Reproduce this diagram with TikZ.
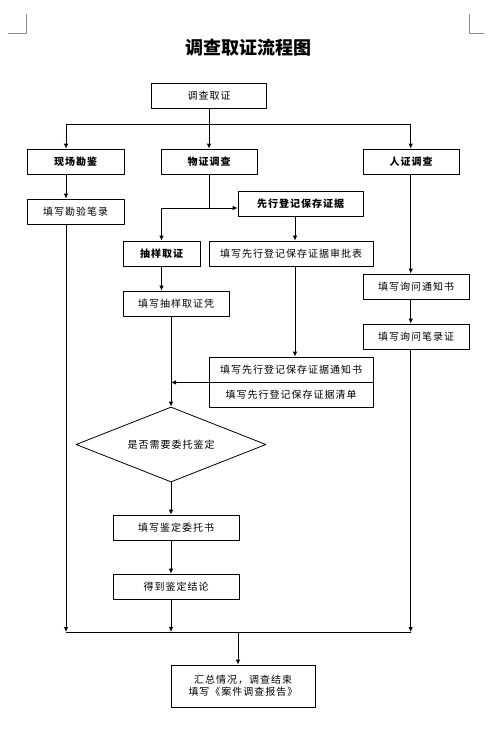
\documentclass[tikz,border=0pt]{standalone}
\usepackage{fontspec}
\newfontfamily\cjk[LetterSpace=10]{Noto Sans CJK SC}
\newfontfamily\cjktitle{Noto Sans CJK SC}
\usetikzlibrary{shapes.geometric,arrows.meta}
\tikzset{
	box/.style={draw, line width=.8pt, minimum height=25pt, inner sep=0pt, font=\cjk\fontsize{10}{12}\selectfont},
	boldbox/.style={box, font=\cjk\bfseries\fontsize{10}{12}\selectfont},
	arr/.style={-{Latex[length=5pt,width=4.5pt]}, line width=.8pt},
}
\begin{document}
\begin{tikzpicture}[x=1pt, y=-1pt, line join=round]
				\useasboundingbox (0,0) rectangle (491,750);
				\coordinate (sL) at (66,124);
				\coordinate (sR) at (410.7,124);
				\coordinate (wB) at (209,208);
				\coordinate (wL) at (161.5,208);
				\coordinate (xX) at (295,190);
				\coordinate (eL) at (66,632);
				\coordinate (eR) at (410.7,632);
				\coordinate (eM) at (238,632);
				\draw[black!45] (8,33) -- (26,33) -- (26,14);
				\draw[black!45] (469,14) -- (469,33) -- (484,33);
				\node[font=\cjktitle\bfseries\fontsize{18}{20}\selectfont] (title) at (248.5,48) {调查取证流程图};
				\node[box, minimum width=115pt] (start) at (209,95.5) {调查取证};
				\node[boldbox, minimum width=97pt] (xcKJ) at (75.5,161.5) {现场勘鉴};
				\node[boldbox, minimum width=96pt] (wzDC) at (209,161.5) {物证调查};
				\node[boldbox, minimum width=96pt] (rzDC) at (411,161.5) {人证调查};
				\node[box, minimum width=97pt] (kyBL) at (75.5,211.5) {填写勘验笔录};
				\node[boldbox, minimum width=125pt] (xxDJ) at (300.5,203.5) {先行登记保存证据};
				\node[boldbox, minimum width=77pt] (cyQZ) at (161.5,253.5) {抽样取证};
				\node[box, minimum width=164pt] (spB) at (291,253.5) {填写先行登记保存证据审批表};
				\node[box, minimum width=106pt] (cyPZ) at (176,303.5) {填写抽样取证凭};
				\node[box, minimum width=106pt] (xwTZ) at (416,286.5) {填写询问通知书};
				\node[box, minimum width=106pt] (xwBL) at (416,336.5) {填写询问笔录证};
				\node[box, minimum width=164pt] (tzS) at (291,369.5) {填写先行登记保存证据通知书};
				\node[box, minimum width=164pt] (qd) at (291,394.5) {填写先行登记保存证据清单};
				\node[box, diamond, aspect=2.5, minimum width=190pt, minimum height=75pt] (jd) at (171,444.5) {是否需要委托鉴定};
				\node[box, minimum width=126pt] (wtS) at (176,527.5) {填写鉴定委托书};
				\node[box, minimum width=126pt] (jl) at (176,586.5) {得到鉴定结论};
				\node[box, minimum width=144pt, minimum height=42pt, align=center] (end) at (243,686) {汇总情况，调查结束\\填写《案件调查报告》};
				\draw[line width=.8pt] (start) -- (start |- sL);
				\draw[line width=.8pt] (sL) -- (sR);
				\draw[arr] (sL) -- (sL |- xcKJ.north);
				\draw[arr] (start |- sL) -- (wzDC);
				\draw[arr] (sR) -- (sR |- rzDC.north);
				\draw[arr] (sL |- xcKJ.south) -- (sL |- kyBL.north);
				\draw[arr] (sL |- kyBL.south) -- (eL);
				\draw[line width=.8pt] (wzDC) -- (wB);
				\draw[arr] (wB) -- (wB -| xxDJ.west);
				\draw[arr] (wB) -- (wL) -- (cyQZ);
				\draw[arr] (xxDJ.south -| xX) -- (xX |- spB.north);
				\draw[arr] (spB.south -| xX) -- (xX |- tzS.north);
				\draw[arr] (cyQZ) -- (cyQZ.south |- cyPZ.north);
				\draw[arr] (jd.north |- cyPZ.south) -- (jd);
				\draw[arr] (tzS.south west) -- (tzS.south west -| jd.north);
				\draw[arr] (jd) -- (jd.south |- wtS.north);
				\draw[arr] (wtS.south -| jd.south) -- (jd.south |- jl.north);
				\draw[arr] (jl.south -| jd.south) -- (jd.south |- eL);
				\draw[arr] (sR |- rzDC.south) -- (sR |- xwTZ.north);
				\draw[arr] (sR |- xwTZ.south) -- (sR |- xwBL.north);
				\draw[arr] (sR |- xwBL.south) -- (eR);
				\draw[line width=.8pt] (eL) -- (eR);
				\draw[arr] (eM) -- (eM |- end.north);
			\end{tikzpicture}
\end{document}
